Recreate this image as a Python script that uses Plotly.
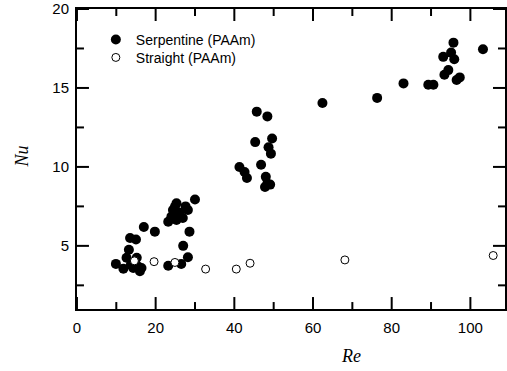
import plotly.graph_objects as go

# Serpentine (PAAm)
serp_re = [9.9, 11.8, 12.6, 13.2, 13.5, 15.0, 15.2, 13.7, 14.3, 15.5, 16.0, 16.4, 17.0, 19.8,
           23.2, 26.5, 28.2, 27.0, 28.6, 23.2, 24.0, 25.3, 24.4, 24.9, 25.3, 28.2, 30.0, 26.1, 27.6, 26.9,
           41.3, 42.6, 43.2, 45.7, 48.4, 45.3, 49.6, 48.7, 49.3, 46.8, 48.0, 48.4, 47.8, 49.1,
           62.4, 76.3, 83.0, 89.3, 90.6, 93.4, 94.4, 93.1, 95.1, 95.7, 95.9, 96.5, 97.3, 103.2]
serp_nu = [3.86, 3.55, 4.25, 4.75, 5.5, 5.4, 4.25, 3.8, 3.6, 3.7, 3.4, 3.6, 6.2, 5.9,
           3.74, 3.86, 4.28, 5.0, 5.9, 6.53, 6.85, 6.64, 7.27, 7.47, 7.7, 7.27, 7.94, 7.1, 7.5, 6.76,
           10.0, 9.68, 9.3, 13.5, 13.2, 11.57, 11.8, 11.25, 10.84, 10.14, 9.37, 8.95, 8.73, 8.88,
           14.05, 14.37, 15.29, 15.2, 15.2, 15.84, 16.13, 16.97, 17.24, 17.87, 16.82, 15.5, 15.67, 17.45]

# Straight (PAAm)
str_re = [14.6, 19.6, 24.9, 32.7, 40.5, 44.0, 68.1, 105.8]
str_nu = [4.05, 4.0, 3.95, 3.53, 3.53, 3.9, 4.11, 4.39]

# tick values
x_major = [0, 20, 40, 60, 80, 100]
x_minor = [10, 30, 50, 70, 90]
y_major = [5, 10, 15, 20]
y_minor = [2.5, 7.5, 12.5, 17.5]

x_range = [0, 108.8]
y_range = [1, 20.0001]

fig = go.Figure()
fig.add_trace(go.Scatter(x=serp_re, y=serp_nu, mode="markers", name="Serpentine (PAAm)",
                         legend="legend",
                         marker=dict(symbol="circle", size=10, color="black", line=dict(width=0))))
fig.add_trace(go.Scatter(x=str_re, y=str_nu, mode="markers", name="Straight (PAAm)",
                         legend="legend2",
                         marker=dict(symbol="circle", size=8, color="white", line=dict(width=1, color="black"))))
# empty helper trace carrying the tick-label axes
fig.add_trace(go.Scatter(x=[], y=[], xaxis="x2", yaxis="y2", showlegend=False, hoverinfo="skip"))

tickfont = dict(family="Liberation Sans, Arial", size=15, color="black")
dx = 8 / 438
dy = 8 / 309.5

fig.update_layout(
    xaxis=dict(domain=[dx, 1], anchor="y", range=x_range,
               showline=True, linecolor="black", linewidth=2, mirror=True,
               ticks="", showticklabels=False, showgrid=False, zeroline=False),
    yaxis=dict(domain=[dy, 1], anchor="x", range=y_range,
               showline=True, linecolor="black", linewidth=2, mirror=True,
               ticks="", showticklabels=False, showgrid=False, zeroline=False),
    xaxis2=dict(range=x_range, overlaying="x", anchor="free", position=0, side="bottom",
                tickmode="array", tickvals=x_major,
                ticks="", showline=False, showgrid=False, zeroline=False,
                showticklabels=True, ticklabeloverflow="allow", tickfont=tickfont),
    yaxis2=dict(range=y_range, overlaying="y", anchor="free", position=0, side="left",
                tickmode="array", tickvals=y_major,
                ticks="", showline=False, showgrid=False, zeroline=False,
                showticklabels=True, ticklabeloverflow="allow", tickfont=tickfont),
)

# tick marks (inside, on all four sides), positioned through the axis scales
MAJ, MIN = 12, 7
tick_line = dict(color="black", width=2)
for vals, ln in ((x_major, MAJ), (x_minor, MIN)):
    for v in vals:
        fig.add_shape(type="line", layer="above", xref="x", yref="y domain",
                      x0=v, x1=v, ysizemode="pixel", yanchor=0, y0=0, y1=ln, line=tick_line)
        fig.add_shape(type="line", layer="above", xref="x", yref="y domain",
                      x0=v, x1=v, ysizemode="pixel", yanchor=1, y0=-ln, y1=0, line=tick_line)
for vals, ln in ((y_major, MAJ), (y_minor, MIN)):
    for v in vals:
        fig.add_shape(type="line", layer="above", xref="x domain", yref="y",
                      y0=v, y1=v, xsizemode="pixel", xanchor=0, x0=0, x1=ln, line=tick_line)
        fig.add_shape(type="line", layer="above", xref="x domain", yref="y",
                      y0=v, y1=v, xsizemode="pixel", xanchor=1, x0=-ln, x1=0, line=tick_line)

fig.add_annotation(text="<i>Re</i>", xref="paper", yref="paper", x=0.646, y=-0.1276,
                   showarrow=False, xanchor="center", yanchor="middle",
                   font=dict(family="Liberation Serif, Times New Roman", size=18, color="black"))
fig.add_annotation(text="<i>Nu</i>", xref="paper", yref="paper", x=-0.1073, y=0.5218,
                   showarrow=False, xanchor="center", yanchor="middle", textangle=-90,
                   font=dict(family="Liberation Serif, Times New Roman", size=18, color="black"))

legend_font = dict(family="Liberation Sans, Arial", size=14, color="black")
fig.update_layout(width=507, height=371, margin=dict(l=69, r=0, t=8, b=53.5),
                  paper_bgcolor="white", plot_bgcolor="white",
                  showlegend=True,
                  legend=dict(x=0.0616, y=0.9515, xanchor="left", yanchor="top",
                              bgcolor="rgba(0,0,0,0)", borderwidth=0, font=legend_font),
                  legend2=dict(x=0.0616, y=0.8934, xanchor="left", yanchor="top",
                               bgcolor="rgba(0,0,0,0)", borderwidth=0, font=legend_font))

fig.write_html("out.html")
